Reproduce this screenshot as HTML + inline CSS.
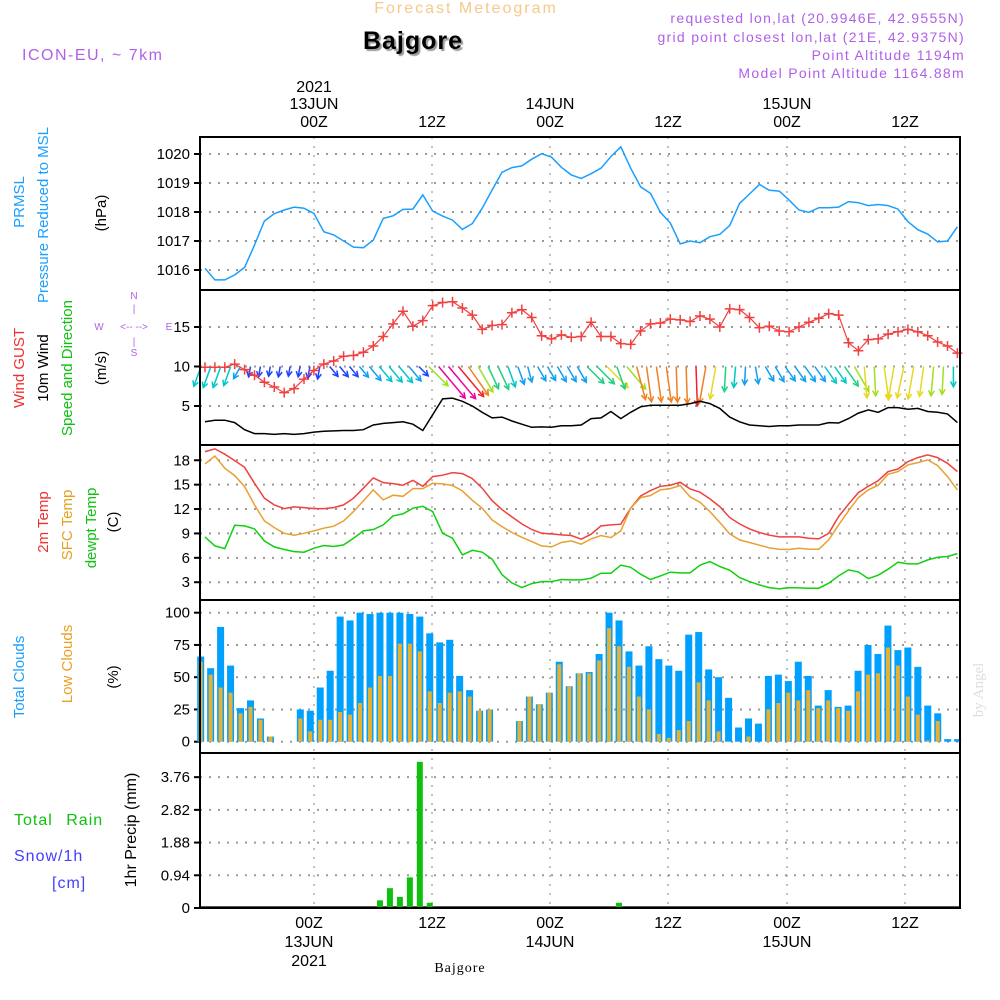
<!DOCTYPE html>
<html><head><meta charset="utf-8">
<style>
html,body{margin:0;padding:0;background:#fff;}
svg{display:block;font-family:"Liberation Sans",sans-serif;}
</style></head>
<body>
<svg id="chart" width="1000" height="1000" viewBox="0 0 1000 1000" xmlns="http://www.w3.org/2000/svg">
<rect x="0" y="0" width="1000" height="1000" fill="#fff"/>
<g id="grid"></g>
<g id="marks"></g>
<g id="frames" fill="none" stroke="#000" stroke-width="2">
  <rect x="200" y="137" width="760" height="771"/>
  <line x1="200" y1="290" x2="960" y2="290"/>
  <line x1="200" y1="445" x2="960" y2="445"/>
  <line x1="200" y1="600" x2="960" y2="600"/>
  <line x1="200" y1="753" x2="960" y2="753"/>
</g>
<g id="texts" font-size="15">
  <text x="466" y="13" text-anchor="middle" fill="#f5c98a" font-size="16" letter-spacing="2">Forecast Meteogram</text>
  <text x="413" y="49" text-anchor="middle" fill="#000" font-size="25" font-weight="bold" letter-spacing="1" style="text-shadow:2px 2px 1px #999">Bajgore</text>
  <text x="22" y="60" fill="#b060e8" font-size="16" letter-spacing="1.5">ICON-EU, ~ 7km</text>
  <g fill="#b060e8" font-size="14" letter-spacing="1.3" text-anchor="end">
    <text x="965" y="23">requested lon,lat (20.9946E, 42.9555N)</text>
    <text x="965" y="42">grid point closest lon,lat (21E, 42.9375N)</text>
    <text x="965" y="60">Point Altitude 1194m</text>
    <text x="965" y="78">Model Point Altitude 1164.88m</text>
  </g>
  <g text-anchor="middle" font-size="16" fill="#000">
    <text x="314" y="92">2021</text><text x="314" y="109">13JUN</text><text x="314" y="127">00Z</text>
    <text x="432" y="127">12Z</text>
    <text x="550" y="109">14JUN</text><text x="550" y="127">00Z</text>
    <text x="668" y="127">12Z</text>
    <text x="787" y="109">15JUN</text><text x="787" y="127">00Z</text>
    <text x="905" y="127">12Z</text>
  </g>
  <g text-anchor="middle" font-size="16" fill="#000">
    <text x="309" y="928">00Z</text><text x="309" y="947">13JUN</text><text x="309" y="966">2021</text>
    <text x="432" y="928">12Z</text>
    <text x="550" y="928">00Z</text><text x="550" y="947">14JUN</text>
    <text x="668" y="928">12Z</text>
    <text x="787" y="928">00Z</text><text x="787" y="947">15JUN</text>
    <text x="905" y="928">12Z</text>
  </g>
  <text x="460" y="972" text-anchor="middle" font-family="Liberation Serif,serif" font-size="14" letter-spacing="1">Bajgore</text>
  <text transform="translate(983,690) rotate(-90)" text-anchor="middle" fill="#ddd" font-family="Liberation Serif,serif" font-size="15">by Angel</text>

  <text transform="translate(24,202) rotate(-90)" text-anchor="middle" fill="#1a9fff">PRMSL</text>
  <text transform="translate(48,215) rotate(-90)" text-anchor="middle" fill="#1a9fff">Pressure Reduced to MSL</text>
  <text transform="translate(106,213) rotate(-90)" text-anchor="middle" fill="#000">(hPa)</text>

  <text transform="translate(24,368) rotate(-90)" text-anchor="middle" fill="#f03030">Wind GUST</text>
  <text transform="translate(48,368) rotate(-90)" text-anchor="middle" fill="#000">10m Wind</text>
  <text transform="translate(72,368) rotate(-90)" text-anchor="middle" fill="#10c010">Speed and Direction</text>
  <text transform="translate(106,368) rotate(-90)" text-anchor="middle" fill="#000">(m/s)</text>
  <g fill="#b060e8" font-size="10" text-anchor="middle">
    <text x="134" y="299">N</text><text x="134" y="356">S</text>
    <text x="99" y="330">W</text><text x="134" y="330">&lt;-- --&gt;</text><text x="169" y="330">E</text>
    <text x="134" y="312">|</text><text x="134" y="345">|</text>
  </g>

  <text transform="translate(48,522) rotate(-90)" text-anchor="middle" fill="#f03030">2m Temp</text>
  <text transform="translate(72,525) rotate(-90)" text-anchor="middle" fill="#e8a020">SFC Temp</text>
  <text transform="translate(96,528) rotate(-90)" text-anchor="middle" fill="#10c010">dewpt Temp</text>
  <text transform="translate(118,522) rotate(-90)" text-anchor="middle" fill="#000">(C)</text>

  <text transform="translate(24,677) rotate(-90)" text-anchor="middle" fill="#1a9fff">Total Clouds</text>
  <text transform="translate(72,664) rotate(-90)" text-anchor="middle" fill="#e8a020">Low Clouds</text>
  <text transform="translate(118,677) rotate(-90)" text-anchor="middle" fill="#000">(%)</text>

  <text transform="translate(136,830) rotate(-90)" text-anchor="middle" fill="#000" font-size="16">1hr Precip (mm)</text>
  <text x="14" y="825" fill="#10c010" font-size="16" letter-spacing="1" word-spacing="8">Total Rain</text>
  <text x="14" y="861" fill="#4040ff" font-size="16" letter-spacing="1">Snow/1h</text>
  <text x="52" y="888" fill="#4040ff" font-size="16" letter-spacing="1">[cm]</text>
</g>
</svg>
<script>
const pressure=[1016.06,1015.66,1015.66,1015.83,1016.09,1016.86,1017.69,1017.94,1018.07,1018.17,1018.13,1017.95,1017.32,1017.21,1017.0,1016.79,1016.77,1017.03,1017.78,1017.87,1018.09,1018.1,1018.59,1018.03,1017.86,1017.72,1017.4,1017.6,1018.13,1018.76,1019.37,1019.53,1019.59,1019.82,1020.01,1019.89,1019.54,1019.28,1019.16,1019.32,1019.51,1019.91,1020.25,1019.51,1018.87,1018.64,1017.99,1017.62,1016.9,1017.0,1016.94,1017.15,1017.23,1017.53,1018.3,1018.62,1018.95,1018.75,1018.72,1018.41,1018.07,1017.99,1018.15,1018.15,1018.17,1018.36,1018.32,1018.22,1018.26,1018.22,1018.1,1017.67,1017.39,1017.24,1016.97,1017.0,1017.49];
const gust=[9.9,9.9,9.9,10.3,9.6,8.9,8.0,7.4,6.7,7.2,8.4,9.5,10.3,10.7,11.3,11.4,11.8,12.6,13.8,15.4,17.0,15.1,15.8,17.7,18.1,18.2,17.4,16.5,14.7,15.2,15.3,16.8,17.2,16.2,13.9,13.5,14.0,13.7,13.8,15.6,13.8,13.8,12.9,12.8,14.5,15.4,15.5,16.0,15.9,15.7,16.4,16.0,15.0,17.3,17.2,16.2,14.9,15.1,14.5,14.4,15.0,15.6,16.1,16.7,16.5,13.0,12.0,13.4,13.5,14.1,14.4,14.7,14.4,13.9,13.1,12.6,11.7];
const windSpeed=[3.0,3.2,3.2,2.9,2.0,1.5,1.5,1.4,1.5,1.4,1.5,1.7,1.8,1.85,1.9,1.9,2.0,2.6,2.8,2.9,3.0,2.7,1.9,3.9,5.9,6.0,5.6,5.0,4.2,3.5,3.6,3.1,2.7,2.3,2.35,2.3,2.5,2.5,2.6,3.4,3.5,4.3,3.4,4.2,4.9,5.1,5.1,5.1,5.1,5.3,5.6,5.3,4.7,3.6,3.0,2.6,2.5,2.4,2.5,2.5,2.6,2.6,2.6,2.9,2.85,3.4,4.1,4.5,4.2,4.8,4.8,4.6,4.7,4.3,4.2,4.0,2.9];
const windDir=[-20,-20,-20,-20,-30,-10,-10,-10,-10,-10,-10,-10,-10,40,40,40,40,40,40,40,40,40,45,45,40,40,40,35,30,25,25,20,20,15,30,30,30,30,30,45,45,45,20,40,15,8,8,8,2,2,2,-10,-10,-3,-5,-3,10,30,30,35,35,35,35,35,35,35,30,5,3,8,-10,-12,-10,-8,-5,-3,0];
const temp2m=[19.07,19.4,18.74,17.96,17.14,15.17,13.33,12.51,12.06,12.26,12.18,12.06,12.06,12.18,12.51,13.33,14.56,15.83,15.25,15.13,14.93,15.54,14.8,15.99,16.16,16.48,16.36,15.75,14.56,13.04,11.93,11.03,10.17,9.48,9.02,8.94,8.82,8.74,8.29,8.9,9.93,10.05,10.13,12.1,13.61,14.27,14.8,14.93,15.3,14.48,14.07,13.25,12.3,10.95,10.17,9.56,9.11,8.78,8.57,8.57,8.57,8.41,8.33,9.02,11.07,12.59,14.02,14.8,15.5,16.61,16.93,17.84,18.33,18.66,18.33,17.63,16.61];
const tempSfc=[17.55,18.53,17.02,16.11,14.76,12.51,10.54,9.72,9.02,8.78,9.02,9.31,9.64,9.89,10.54,11.69,13.0,14.35,13.12,13.7,13.57,14.52,14.52,15.17,15.09,14.89,14.23,13.08,12.1,10.66,9.84,9.11,8.53,8.0,7.47,7.34,7.88,8.08,7.67,8.33,8.74,8.49,9.31,12.1,13.41,13.66,14.35,14.52,14.89,13.49,12.84,11.69,10.34,8.94,8.2,7.88,7.55,7.22,7.06,7.02,7.18,7.06,7.06,8.2,10.05,11.77,13.41,14.35,14.93,16.28,16.61,17.43,17.71,18.04,17.34,15.99,14.35];
const dewpt=[8.57,7.47,7.14,10.0,9.93,9.56,8.08,7.34,7.02,6.77,6.69,7.18,7.51,7.39,7.59,8.41,9.31,9.48,10.05,11.16,11.4,12.1,12.34,11.69,9.02,8.41,6.36,6.93,6.69,5.83,3.94,2.92,2.34,2.83,3.08,3.08,3.33,3.29,3.29,3.49,4.11,4.11,5.09,4.84,3.98,3.33,3.78,4.23,4.15,4.15,5.09,5.54,4.93,4.48,3.57,3.08,2.67,2.34,2.18,2.34,2.3,2.26,2.26,2.88,3.78,4.52,4.27,3.45,3.86,4.6,5.46,5.25,5.25,5.75,6.07,6.16,6.52];
const totalClouds=[66,57,89,59,26,32,18,4,0,0,25,24,42,55,97,94,100,99,100,100,100,99,97,84,77,79,51,40,24,25,0,0,16,35,29,38,62,43,53,54,68,100,94,70,59,74,64,59,55,83,85,56,50,34,11,18,14,51,52,47,62,51,28,40,27,28,55,75,68,90,71,73,58,28,22,2,2];
const lowClouds=[62,52,42,38,22,27,17,4,0,0,18,8,17,17,23,21,30,42,51,51,76,76,70,39,30,38,39,35,24,25,0,0,16,35,29,38,60,43,53,53,63,88,74,58,35,25,6,3,9,16,46,32,8,0,0,4,0,25,30,38,32,40,26,32,26,24,39,52,53,73,59,35,21,1,16,0,0];
const precip=[0,0,0,0,0,0,0,0,0,0,0,0,0,0,0,0,0,0,0.22,0.57,0.32,0.88,4.2,0.15,0,0,0,0,0,0,0,0,0,0,0,0,0,0,0,0,0,0.03,0.15,0,0,0,0,0,0,0,0,0,0,0,0,0,0,0,0,0,0,0,0,0,0,0,0,0,0,0,0,0,0,0,0,0,0];
const pressureTicks=[1016,1017,1018,1019,1020];
const windTicks=[5,10,15];
const tempTicks=[3,6,9,12,15,18];
const cloudTicks=[0,25,50,75,100];
const precipTicks=[0,0.94,1.88,2.82,3.76];
const timeGrid=[314,432,550,668,787,905];

const NS="http://www.w3.org/2000/svg";
const grid=document.getElementById('grid');
const marks=document.getElementById('marks');
function mk(tag,attrs,parent){const e=document.createElementNS(NS,tag);for(const k in attrs)e.setAttribute(k,attrs[k]);(parent||marks).appendChild(e);return e;}
const xl=i=>205+9.9*i;
const xb=i=>200.7+9.96*i;
const yP=v=>270-(v-1016)*29;
const yW=v=>445.5-v*7.9;
const yT=v=>606.6-v*8.13;
const yC=v=>741.7-v*1.29;
const yR=v=>908-v*34.8;

timeGrid.forEach(x=>{
  const g=mk('line',{x1:x,y1:137,x2:x,y2:908,stroke:'#9a9a9a','stroke-width':1.2,'stroke-dasharray':'2,7'},grid);
  
  
});
function hTicks(ticks,yf,fmt,name){
  ticks.forEach(t=>{
    const y=yf(t);
    const l=mk('line',{x1:200,y1:y,x2:960,y2:y,stroke:'#9a9a9a','stroke-width':2,'stroke-dasharray':'2,7'},grid);
    
    
    mk('line',{x1:194,y1:y,x2:200,y2:y,stroke:'#000','stroke-width':2},grid);
    const tx=mk('text',{x:190,y:y+5,'text-anchor':'end','font-size':15,fill:'#000'},grid);
    tx.textContent=fmt(t);
    
    
  });
}
hTicks(pressureTicks,yP,t=>String(t),'pressure');
hTicks(windTicks,yW,t=>String(t),'wind');
hTicks(tempTicks,yT,t=>String(t),'temp');
hTicks(cloudTicks,yC,t=>String(t),'cloud');
hTicks(precipTicks,yR,t=>t===0?'0':t.toFixed(2),'precip');

function line(arr,xf,yf,color,name,w){
  const p=mk('polyline',{points:arr.map((v,i)=>xf(i).toFixed(1)+','+yf(v).toFixed(1)).join(' '),fill:'none',stroke:color,'stroke-width':w||1.5});
  
  
}
line(pressure,xl,yP,'#1a9fff','pressure-line');

totalClouds.forEach((v,i)=>{
  const r=mk('rect',{x:xb(i)-3.5,y:yC(v),width:7,height:Math.max(0,yC(0)-yC(v)),fill:'#00a0ff'});
  
  
});
lowClouds.forEach((v,i)=>{
  const r=mk('rect',{x:xb(i)-2,y:yC(v),width:4,height:Math.max(0,yC(0)-yC(v)),fill:'#e8b030'});
  
  
});
mk('line',{x1:200,y1:907,x2:960,y2:907,stroke:'#222','stroke-width':1.5});
precip.forEach((v,i)=>{
  if(v<=0)return;
  const r=mk('rect',{x:xb(i)-3,y:yR(v),width:6,height:yR(0)-yR(v),fill:'#10c010'});
  
  
});

line(temp2m,xl,yT,'#f04040','temp-2m-line');
line(tempSfc,xl,yT,'#e8a030','temp-sfc-line');
line(dewpt,xl,yT,'#10d010','dewpt-line');

function speedColor(s){
  const stops=[[0,'#2040ff'],[1.95,'#10a0f0'],[2.8,'#00c8c8'],[3.3,'#20d080'],[3.8,'#a0e020'],[4.3,'#e8d820'],[4.85,'#f08020'],[5.55,'#f02030'],[5.9,'#f000a0']];
  let c=stops[0][1];stops.forEach(st=>{if(s>=st[0])c=st[1];});return c;
}
windSpeed.forEach((s,i)=>{
  const a=windDir[i]*Math.PI/180,L=7*s;
  const x0=xl(i)-4,y0=yW(10);
  const x1=x0+L*Math.sin(a),y1=y0+L*Math.cos(a);
  const c=speedColor(s);
  const g=mk('g',{stroke:c,'stroke-width':1.5,fill:'none'});
  
  
  mk('line',{x1:x0,y1:y0,x2:x1,y2:y1},g);
  const back=Math.atan2(y0-y1,x0-x1),h=6;
  mk('polyline',{points:(x1+h*Math.cos(back+0.5))+','+(y1+h*Math.sin(back+0.5))+' '+x1+','+y1+' '+(x1+h*Math.cos(back-0.5))+','+(y1+h*Math.sin(back-0.5))},g);
});
line(windSpeed,xl,yW,'#000','wind-speed-line');
line(gust,xl,yW,'#f04040','gust-line',1.2);
gust.forEach((v,i)=>{
  const x=xl(i),y=yW(v);
  const g=mk('path',{d:`M${x-5},${y}H${x+5}M${x},${y-5}V${y+5}`,stroke:'#f04040','stroke-width':1.5});
  
  
});
</script>
</body></html>
